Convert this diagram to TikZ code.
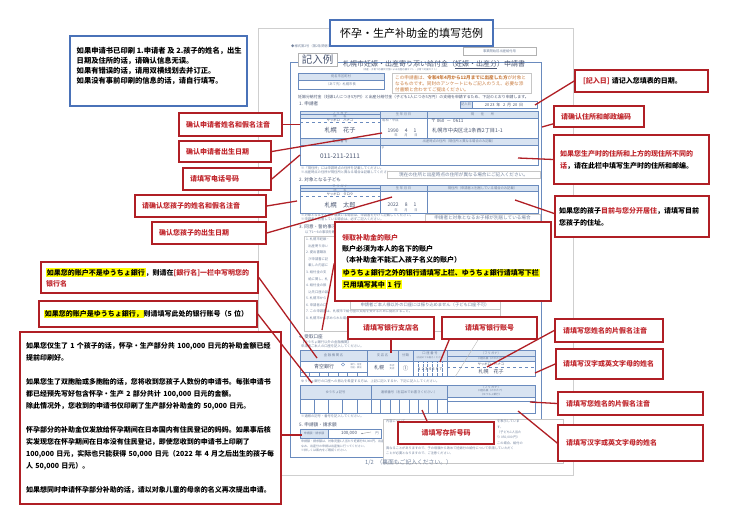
\documentclass[tikz,border=0pt]{standalone}
\usepackage{fontspec}
\setmainfont{Noto Sans CJK SC}
\definecolor{boxred}{HTML}{B01F25}
\definecolor{txtred}{HTML}{C1272D}
\definecolor{fblue}{HTML}{6A8BBE}
\definecolor{fhead}{HTML}{D8E3F1}
\definecolor{hlyel}{HTML}{FFFF00}
\definecolor{hand}{HTML}{4A5672}
\definecolor{ftext}{HTML}{71819C}
\definecolor{pagegray}{HTML}{CFCFCF}
\definecolor{bboxblue}{HTML}{4A72B8}
\definecolor{orangetext}{HTML}{C87A3C}
\newcommand\hly[1]{{\setlength\fboxsep{0.8pt}\colorbox{hlyel}{#1}}}
\tikzset{
  redbox/.style={draw=boxred, line width=1.7pt, fill=white, inner xsep=6pt, inner ysep=0pt,
    font=\bfseries\fontsize{7}{12}\selectfont, text=txtred, align=left},
  conn/.style={draw=boxred, line width=1.3pt},
  ftiny/.style={font=\fontsize{3.3}{4.2}\selectfont, text=ftext, inner sep=0pt},
  fsec/.style={font=\fontsize{4.6}{5.5}\selectfont, text=hand, inner sep=0pt, anchor=west},
  handw/.style={font=\fontsize{5.6}{6.5}\selectfont, text=hand, inner sep=0pt},
  fline/.style={draw=fblue, line width=0.6pt},
  fthin/.style={draw=fblue, line width=0.3pt},
  lightbox/.style={draw=gray!45, line width=0.4pt, fill=white, inner sep=0pt,
    font=\fontsize{4.6}{5.5}\selectfont, text=ftext},
}
\begin{document}
\begin{tikzpicture}[x=1pt,y=-1pt]
\useasboundingbox (0,0) rectangle (730,516);
\fill[white] (0,0) rectangle (730,516);

% ---------------- the form page ----------------
\node[draw=pagegray, line width=0.6pt, fill=white, minimum width=315pt, minimum height=447pt, inner sep=0pt] (page) at (415.5,251.5) {};
\draw[fline, line width=0.8pt] (290,62) rectangle (541,457);
\node[ftiny, anchor=west] (fa1) at (291,46.5) {◆様式第2号（第2条関係）};
\node[draw=gray!60, line width=0.4pt, minimum width=73pt, minimum height=8pt, ftiny] (fa2) at (499.5,51) {事業開始前出産給付用};
\node[draw=gray!60, fill=white, line width=0.5pt, minimum width=39pt, minimum height=13pt, inner sep=0pt,
  font=\fontsize{10.5}{12}\selectfont, text=hand] (kinyu) at (317.5,59.5) {記入例};
\node[font=\fontsize{7}{8}\selectfont, text=hand, inner sep=0pt] (fa3) at (434,65) {札幌市妊娠・出産寄り添い給付金（\underline{妊娠・出産分}）申請書};
\node[font=\fontsize{2.4}{3}\selectfont, text=ftext, inner sep=0pt] (fa4) at (400,69.8) {（出産・子育て応援交付金による出産応援ギフト・子育て応援ギフト）};
% address table
\draw[fthin, fill=fhead] (298,73) rectangle (384,80);
\draw[fthin] (298,80) rectangle (384,89);
\node[ftiny] (fa5) at (341,76.5) {宛名市区町村};
\node[ftiny] (fa6) at (341,84.5) {（あて先）札幌市長};
\draw[draw=gray!45, line width=0.4pt] (392,73) rectangle (531,93);
\node[anchor=north west, font=\fontsize{4.6}{6.2}\selectfont, text=orangetext, inner sep=0pt, align=left] (fa7) at (395,74.8)
  {この申請書は、\textbf{令和4年4月から12月までに出産した方}が対象と\\なるものです。同封のアンケートにもご記入のうえ、必要な添\\付書類と合わせてご提出ください。};
\node[font=\fontsize{3.9}{4.5}\selectfont, text=hand, inner sep=0pt, anchor=west] (fa8) at (298,97.5)
  {妊娠分給付金（妊娠1人につき5万円）と出産分給付金（子ども1人につき5万円）の支給を申請するため、下記のとおり申請します。};
\node[fsec] (fs1) at (299,104) {1. 申請者};
\draw[fthin, fill=fhead] (460,101) rectangle (472,108);
\draw[fthin] (472,101) rectangle (537,108);
\node[ftiny] (fa9) at (466,104.5) {記入日};
\node[font=\fontsize{4}{5}\selectfont, text=hand, inner sep=0pt] (fa10) at (504,104.5) {20\ 23\ \ 年\ \ \ 2\ \ 月\ \ 20\ \ 日};
% applicant table
\fill[fhead] (300,111) rectangle (538,118);
\fill[fhead] (300,138) rectangle (538,145);
\draw[fline] (300,111) rectangle (538,165);
\draw[fthin] (300,118) -- (538,118) (300,138) -- (538,138) (300,145) -- (538,145)
  (380,111) -- (380,165) (427,111) -- (427,138) (300,114.5) -- (380,114.5);
\draw[fthin, dashed] (300,122) -- (380,122);
\node[ftiny] (fb1) at (340,112.8) {フ リ ガ ナ};
\node[ftiny] (fb2) at (340,116.3) {氏　　名};
\node[ftiny] (fb3) at (403.5,114.5) {生 年 月 日};
\node[ftiny] (fb4) at (482.5,114.5) {現　　住　　所};
\node[ftiny, text=hand] (fb5) at (340,120) {サッポロ　ハナコ};
\node[handw, font=\fontsize{6.2}{7}\selectfont] (fb6) at (340,130.5) {札幌　花子};
\node[ftiny, anchor=west] (fb7) at (382,120.5) {昭和・平成};
\node[handw, font=\fontsize{5}{6}\selectfont] (fb8) at (402,131) {1990\quad\ 4\quad\ 1};
\node[ftiny] (fb9) at (406,135.5) {年　　月　　日};
\node[handw, font=\fontsize{4.6}{5}\selectfont, anchor=west] (fb10) at (431,121) {〒\ 060\ \ －\ \ 0611};
\node[handw, font=\fontsize{5.2}{6}\selectfont, anchor=west] (fb11) at (432,131) {札幌市中央区北1条西2丁目1-1};
\node[ftiny] (fb12) at (340,141.5) {電 話 番 号};
\node[ftiny] (fb13) at (459,141.5) {出産時点の住所（現住所と異なる場合のみ記載）};
\node[handw, font=\fontsize{6.4}{7}\selectfont] (fb14) at (340,156) {011-211-2111};
\node[ftiny] (fb15) at (383,148) {〒};
\node[ftiny, anchor=west] (fb16) at (301,168) {※「現住所」には申請時点の住所を記載してください。};
\node[ftiny, anchor=west] (fb17) at (301,172) {※出産時点の住所が現住所と異なる場合は記載してください。};
\node[lightbox, minimum width=153pt, minimum height=7pt] (fb18) at (463.5,174.5) {現在の住所と出産時点の住所が異なる場合にご記入ください。};
% child table
\node[fsec] (fs2) at (299,179.5) {2. 対象となる子ども};
\fill[fhead] (300,185) rectangle (538,191.5);
\draw[fline] (300,185) rectangle (538,213);
\draw[fthin] (300,191.5) -- (538,191.5) (380,185) -- (380,213) (427,185) -- (427,213) (300,188.3) -- (380,188.3);
\draw[fthin, dashed] (300,196) -- (380,196);
\node[ftiny] (fc1) at (340,186.7) {フ リ ガ ナ};
\node[ftiny] (fc2) at (340,190) {氏　　名};
\node[ftiny] (fc3) at (403.5,188.3) {生 年 月 日};
\node[ftiny] (fc4) at (482.5,188.3) {現住所（申請者と別居している場合のみ記載）};
\node[ftiny, text=hand] (fc5) at (340,194) {サッポロ　タロウ};
\node[handw, font=\fontsize{6.2}{7}\selectfont] (fc6) at (340,205) {札幌　太郎};
\node[handw, font=\fontsize{5}{6}\selectfont] (fc7) at (402,205) {2022\quad\ 8\quad\ 1};
\node[ftiny] (fc8) at (406,210) {年　　月　　日};
\node[ftiny, anchor=west] (fc9) at (301,215.5) {※対象となる子どもが複数いる場合は、申請書を分けて記載してください。};
\node[ftiny, anchor=west] (fc10) at (301,219.3) {※申請者と別居している場合は、必ずご記入ください。};
\node[lightbox, minimum width=115pt, minimum height=7pt] (fc11) at (482.5,218) {申請者と対象となるお子様が別居している場合};
% consent
\node[fsec] (fs3) at (299,227) {3. 同意・誓約事項};
\node[ftiny, anchor=west] (fd1) at (305,232) {以下1～8の事項を確認し、同意・誓約のうえ申請してください。};
\draw[draw=gray!45, line width=0.4pt] (304,236) rectangle (500,331);
\node[ftiny, anchor=north west, align=left, font=\fontsize{3.3}{6.6}\selectfont] (fd2) at (306,237.5) {1. 札幌市妊娠・\\\ \ \ 出産寄り添い\\2. 提出書類及\\\ \ \ び申請書に記\\\ \ \ 載した内容に\\3. 給付金の支\\\ \ \ 給に関し、札\\4. 給付金の振\\\ \ \ 込先口座の誤\\5. 札幌市から\\6. 申請者の口};
\node[ftiny, anchor=north west, align=left, font=\fontsize{3.3}{6.6}\selectfont] (fd4) at (306,309.9) {7. この申請書は、札幌市で給付金の支給を受けるために提出すること。\\8. 札幌市から求められた場合は、必要書類を提出すること。};
\node[lightbox, minimum width=150pt, minimum height=7.5pt, font=\fontsize{4.3}{5}\selectfont] (fd3) at (425,305.3) {申請者ご本人様以外の口座には振り込めません（子ども口座不可）};
% bank account
\node[fsec] (fs4) at (299,337) {4. 受取口座};
\node[ftiny, anchor=west] (fe1) at (301,342) {【ゆうちょ銀行以外の金融機関】};
\node[ftiny, anchor=west] (fe2) at (301,346) {申請者ご本人の口座を記入してください。};
\fill[fhead] (300,350) rectangle (535,361);
\draw[fline] (300,350) rectangle (535,376);
\draw[fthin] (300,361) -- (535,361) (367,350) -- (367,376) (398,350) -- (398,376) (413,350) -- (413,376) (447,350) -- (447,376)
  (300,372.5) -- (367,372.5) (447,356) -- (535,356);
\foreach \i in {1,...,6} { \draw[fthin] ({300+\i*9.5},372.5) -- ({300+\i*9.5},376); }
\foreach \i in {1,...,6} { \draw[fthin, densely dotted] ({413+\i*4.857},361) -- ({413+\i*4.857},376); }
\draw[fthin, dashed] (447,367) -- (535,367);
\node[ftiny] (fe3) at (333.5,355.5) {金 融 機 関 名};
\node[ftiny] (fe4) at (382.5,355.5) {支 店 名};
\node[ftiny] (fe5) at (405.5,355.5) {分類};
\node[ftiny] (fe6) at (430,353.5) {口 座 番 号};
\node[ftiny, font=\fontsize{2.3}{3}\selectfont] (fe7) at (430,357.5) {（右詰めでお書きください）};
\node[ftiny] (fe8) at (491,353) {（フリガナ）};
\node[ftiny, font=\fontsize{2.6}{3.2}\selectfont, align=center] (fe9) at (491,358.5) {口座名義（カタカナ）};
\node[handw, font=\fontsize{5}{6}\selectfont] (fe10) at (324,367) {青空銀行};
\draw[fthin] (343,364.5) circle (1.6pt);
\node[ftiny, font=\fontsize{2.2}{2.8}\selectfont, align=left] (fe11) at (356,366) {銀行・信金\\信組・農協};
\node[handw, font=\fontsize{5}{6}\selectfont] (fe12) at (379,367.5) {札幌};
\node[ftiny, font=\fontsize{2.4}{3}\selectfont, align=left] (fe13) at (392,367) {本店\\支店};
\node[handw, font=\fontsize{5.5}{6}\selectfont] (fe14) at (405.5,368) {①};
\node[handw, font=\fontsize{4}{5}\selectfont] (fe15) at (430,369) {1\,\,2\,\,3\,\,4\,\,5\,\,6\,\,7};
\node[ftiny, text=hand] (fe16) at (491,364) {サッポロ　ハナコ};
\node[handw, font=\fontsize{5}{6}\selectfont] (fe17) at (491,372) {札幌　花子};
\draw[draw=gray!60, line width=0.35pt] (478,340) -- (455,377);
\node[ftiny, anchor=west] (fe18) at (301,381.5) {ゆうちょ銀行の口座への振込を希望する方は、上記に記入するか、下記に記入してください。};
% yucho table
\fill[fhead] (300,385) rectangle (535,397);
\fill[fhead] (300,397) rectangle (447,399);
\draw[fline] (300,385) rectangle (535,413);
\draw[fthin] (300,399) -- (447,399) (371,385) -- (371,413) (447,385) -- (447,413)
  (447,397) -- (535,397) (447,401) -- (535,401);
\foreach \i in {1,...,4} { \draw[fthin] ({300+\i*14.2},399) -- ({300+\i*14.2},413); }
\foreach \i in {1,...,7} { \draw[fthin] ({371+\i*9.5},399) -- ({371+\i*9.5},413); }
\node[ftiny] (fg1) at (335.5,392) {ゆうちょ記号};
\node[ftiny] (fg2) at (409,392) {通帳番号（右詰めでお書きください）};
\node[ftiny] (fg3) at (491,387.5) {（フリガナ）};
\node[ftiny, font=\fontsize{2.6}{3.3}\selectfont, align=center] (fg4) at (491,392.5) {口座名義（カタカナ）\\（ゆうちょ銀行）};
\node[ftiny, anchor=west] (fg5) at (301,416.5) {※通帳の記号・番号を記入してください。};
% amount
\node[fsec] (fs5) at (299,425) {5. 申請額・請求額};
\fill[fhead] (300,429) rectangle (328,438);
\draw[fline] (300,429) rectangle (381,438);
\draw[fthin] (328,429) -- (328,438);
\node[ftiny, font=\fontsize{2.9}{3.5}\selectfont] (fh1) at (314,433.5) {申請額・請求額};
\node[handw, font=\fontsize{4.4}{5}\selectfont] (fh2) at (349,433.5) {100,000};
\fill[hand] (362,433.5) circle (0.7pt);
\draw[fthin, gray] (362,433.5) -- (371,432);
\node[ftiny] (fh3) at (377,433.5) {円};
\node[ftiny, anchor=north west, align=left, font=\fontsize{3}{4.4}\selectfont] (fh4) at (301,440) {申請額・請求額は、対象児童1人当たり妊娠分50,000円、出産分50,000円です。\\なお、出産分の申請は出産後に行ってください。\\※詳しくは案内をご確認ください。};
\node[lightbox, minimum width=180pt, minimum height=44pt] (fh5) at (473,441) {};
\node[ftiny, anchor=west, font=\fontsize{3.2}{4}\selectfont] (fh6) at (386,421.5) {内容について};
\node[ftiny, anchor=north west, align=left, font=\fontsize{3.2}{5.3}\selectfont] (fh8) at (497,420) {を表示していま\\す。\\（子ども1人当た\\り 050,000 円）\\この場合、給付の};
\node[ftiny, anchor=north west, align=left, font=\fontsize{3.2}{5.3}\selectfont] (fh9) at (386,446.3) {異なることがありますので、子の母親から改めて妊娠分の給付について申請していただく\\ことが必要となりますので、ご注意ください。};
\node[font=\fontsize{5.8}{6.5}\selectfont, text=ftext, inner sep=0pt, anchor=west] (fh7) at (365,462.5) {1/2\ \ （裏面もご記入ください。）};

% ---------------- title ----------------
\node[draw=bboxblue, line width=1.3pt, fill=white, minimum width=163pt, minimum height=26pt, inner sep=0pt,
  font=\fontsize{11}{13}\selectfont] (title) at (411.5,33) {怀孕・生产补助金的填写范例};

% ---------------- blue note ----------------
\node[draw=bboxblue, line width=1.2pt, fill=white, minimum width=177pt, minimum height=70pt, inner sep=0pt] (bluebox) at (158.5,71) {};
\node[anchor=north west, inner sep=0pt, align=left, font=\bfseries\fontsize{7.3}{10}\selectfont] (bluetext) at (76.5,46.5)
  {如果申请书已印刷 1.申请者 及 2.孩子的姓名，出生\\日期及住所的话，请确认信息无误。\\如果有错误的话，请用双横线划去并订正。\\如果没有事前印刷的信息的话，请自行填写。};

% ---------------- red label boxes ----------------
\node[redbox, minimum width=103pt, minimum height=23pt, text width=89pt, inner xsep=7pt] (r1) at (230.5,124.5) {确认申请者姓名和假名注音};
\node[redbox, minimum width=92pt, minimum height=21pt, text width=78pt, inner xsep=7pt] (r2) at (225,151.5) {确认申请者出生日期};
\node[redbox, minimum width=88pt, minimum height=22pt, text width=74pt, inner xsep=7pt] (r3) at (227,179) {请填写电话号码};
\node[redbox, minimum width=131pt, minimum height=22pt, text width=117pt, inner xsep=7pt] (r4) at (200.5,206) {请确认您孩子的姓名和假名注音};
\node[redbox, minimum width=114pt, minimum height=22pt, text width=100pt, inner xsep=7pt] (r5) at (209,233) {确认您孩子的出生日期};
\node[redbox, minimum width=133pt, minimum height=22pt, text width=117pt, inner xsep=8pt] (r6) at (641.5,81) {[記入日]\ {\color{black}请记入您填表的日期。}};
\node[redbox, minimum width=90pt, minimum height=21pt, text width=76pt, inner xsep=7pt] (r7) at (599,116.5) {请确认住所和邮政编码};
\node[redbox, minimum width=155pt, minimum height=49pt, text width=143pt, inner xsep=6pt] (r8) at (631.5,159.5) {如果您生产时的住所和上方的现住所不同的\\话{\color{black}，请在此栏中填写生产时的住所和邮编。}};
\node[redbox, text=black, minimum width=154pt, minimum height=41pt, text width=146pt, inner xsep=4pt] (r9) at (632,216.5) {如果您的孩子{\color{txtred}目前与您分开居住}，请填写目前\\您孩子的住址。};
\node[redbox, text=black, minimum width=216pt, minimum height=79pt, text width=202pt, inner xsep=7pt,
  font=\bfseries\fontsize{7}{11}\selectfont] (r10) at (443,261.5)
  {{\color{txtred}领取补助金的账户}\\账户必须为本人的名下的账户\\（本补助金不能汇入孩子名义的账户）\\[2.5pt]\hly{ゆうちょ銀行之外的银行请填写上栏、ゆうちょ銀行请填写下栏}\\[0.5pt]\hly{只用填写其中}\,\hly{1 行}};
\node[redbox, text=black, minimum width=217pt, minimum height=31pt, text width=207pt, inner xsep=5pt,
  font=\bfseries\fontsize{7}{11}\selectfont] (r11) at (149.5,277.5)
  {\hly{如果您的账户不是ゆうちょ銀行}，则请在{\color{txtred}[銀行名]一栏中写明您的}\\{\color{txtred}银行名}};
\node[redbox, text=black, minimum width=218pt, minimum height=26pt, text width=208pt, inner xsep=5pt] (r12) at (148,314)
  {\hly{如果您的账户是ゆうちょ銀行，}则请填写此处的银行账号（5~位）};
\node[redbox, text=black, minimum width=261pt, minimum height=172pt, text width=249pt, inner xsep=6pt] (r13) at (150.5,418)
  {如果您仅生了~1~个孩子的话，怀孕・生产部分共~100,000~日元的补助金额已经\\
   提前印刷好。\\[12pt]
   如果您生了双胞胎或多胞胎的话，您将收到您孩子人数份的申请书。每张申请书\\
   都已经预先写好包含怀孕・生产~2~部分共计~100,000~日元的金额。\\
   除此情况外，您收到的申请书仅印刷了生产部分补助金的~50,000~日元。\\[12pt]
   怀孕部分的补助金仅发放给怀孕期间在日本国内有住民登记的妈妈。如果事后核\\
   实发现您在怀孕期间在日本没有住民登记，即使您收到的申请书上印刷了\\
   100,000~日元，实际也只能获得~50,000~日元（2022~年~4~月之后出生的孩子每\\
   人~50,000~日元）。\\[12pt]
   如果想同时申请怀孕部分补助的话，请以对象儿童的母亲的名义再次提出申请。};
\node[redbox, minimum width=86pt, minimum height=22pt, text width=74pt, align=center] (r14) at (391,328) {请填写银行支店名};
\node[redbox, minimum width=95pt, minimum height=22pt, text width=83pt, align=center] (r15) at (489.5,328) {请填写银行账号};
\node[redbox, minimum width=108pt, minimum height=23pt, text width=92pt, inner xsep=8pt] (r16) at (609,330.5) {请填写您姓名的片假名注音};
\node[redbox, minimum width=107pt, minimum height=30pt, text width=93pt, inner xsep=7pt] (r17) at (609.5,364) {请填写汉字或英文字母的姓名};
\node[redbox, minimum width=145pt, minimum height=23pt, text width=129pt, inner xsep=8pt] (r18) at (630.5,403.5) {请填写您姓名的片假名注音};
\node[redbox, minimum width=145pt, minimum height=36pt, text width=129pt, inner xsep=8pt] (r19) at (630.5,443) {请填写汉字或英文字母的姓名};
\node[redbox, minimum width=96pt, minimum height=22pt, text width=84pt, align=center] (r20) at (446,433) {请填写存折号码};

% ---------------- connector targets ----------------
\coordinate (c1) at (300,124.5);
\coordinate (c2) at (382,133);
\coordinate (c3) at (300,155);
\coordinate (c4) at (297,201);
\coordinate (c5) at (392,197);
\coordinate (c6) at (535,105);
\coordinate (c7) at (542,127);
\coordinate (c8) at (518,158);
\coordinate (c9) at (515,200);
\coordinate (c10) at (322,330);
\coordinate (c11) at (317,358);
\coordinate (c12) at (312,383);
\coordinate (c13) at (302,435);
\coordinate (c14) at (391,353);
\coordinate (c15) at (440,362);
\coordinate (c16) at (487,367);
\coordinate (c17) at (535,373);
\coordinate (c18) at (530,402);
\coordinate (c19) at (518,411);
\coordinate (c20) at (422,410);

\draw[conn] (r1.east) -- (c1);
\draw[conn] (r2.east) -- (c2);
\draw[conn] (r3.east) -- (c3);
\draw[conn] (r4.east) -- (c4);
\draw[conn] (r5.east) -- (c5);
\draw[conn] (r6.west) -- (c6);
\draw[conn] ([yshift=4pt]r7.south west) -- (c7);
\draw[conn] (r8.west) -- (c8);
\draw[conn] ([yshift=3pt]r9.west) -- (c9);
\draw[conn] ([yshift=-2pt]r10.west) -- (c10);
\draw[conn] (r11.east) -- (c11);
\draw[conn] (r12.east) -- (c12);
\draw[conn] (r13.east |- c13) -- (c13);
\draw[conn] (r14.south) -- (c14);
\draw[conn] ([xshift=8pt]r15.south west) -- (c15);
\draw[conn] (r16.west) -- (c16);
\draw[conn] (r17.west) -- (c17);
\draw[conn] (r18.west) -- (c18);
\draw[conn] (r19.west) -- (c19);
\draw[conn] ([xshift=-19pt]r20.north) -- (c20);
\end{tikzpicture}
\end{document}
